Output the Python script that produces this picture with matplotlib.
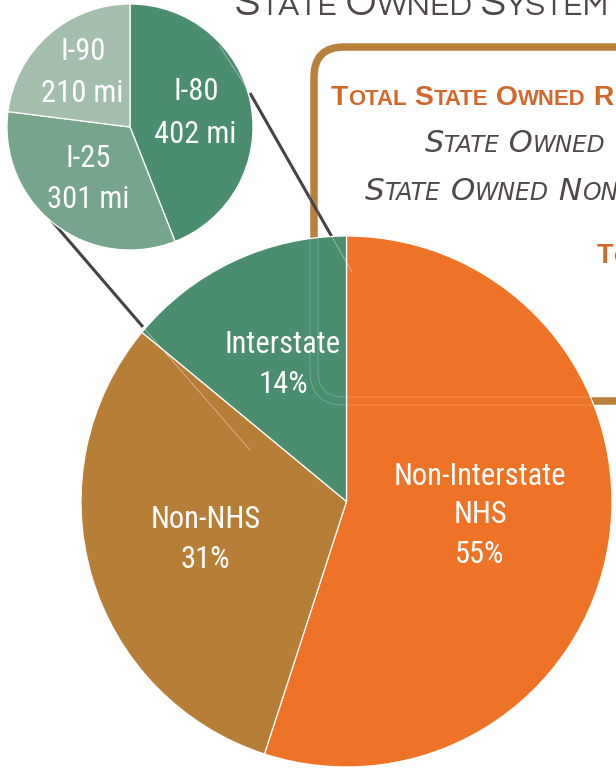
import matplotlib
matplotlib.use("Agg")
import matplotlib.pyplot as plt
from matplotlib.patches import FancyBboxPatch

W, H = 616, 773

# ---------------- data ----------------
main_labels = ["Non-Interstate\nNHS", "Non-NHS", "Interstate"]
main_values = [55, 31, 14]
main_colors = ["#EE7326", "#B77E38", "#4A8D6F"]

inter_labels = ["I-80", "I-25", "I-90"]
inter_miles = [402, 301, 210]
inter_colors = ["#4A8D6F", "#76A58D", "#A4BEAE"]

title_text = "State Owned System"
box_lines = ["Total State Owned R", "State Owned", "State Owned Non-", "To"]

LABEL_FONT = ["Roboto Condensed", "DejaVu Sans"]
TITLE_FONT = ["Questrial", "DejaVu Sans"]
ITALIC_FONT = ["DejaVu Sans"]
BOLD_FONT = ["Liberation Sans", "DejaVu Sans"]

fig = plt.figure(figsize=(W / 100, H / 100), dpi=100)
ax = fig.add_axes([0, 0, 1, 1])

def Y(py):
    return H - py

# big pie
bcx, bcy, br = 346.5, 501.5, 265.5
ax.pie(main_values, colors=main_colors, startangle=90, counterclock=False,
       center=(bcx, Y(bcy)), radius=br,
       wedgeprops=dict(edgecolor="white", linewidth=0.9, zorder=2))

# small pie
scx, scy, sr = 130, 127, 123
ax.pie(inter_miles, colors=inter_colors, startangle=90, counterclock=False,
       center=(scx, Y(scy)), radius=sr,
       wedgeprops=dict(edgecolor="white", linewidth=0.9, zorder=2))

# rounded box behind the big pie
box = FancyBboxPatch((314, Y(401)), 500, 401 - 47,
                     boxstyle="round,pad=0,rounding_size=30",
                     fill=False, edgecolor="#B8803A", linewidth=5.5, zorder=1)
ax.add_patch(box)
for off in (-4, 4):
    g = FancyBboxPatch((314 + off, Y(401 - off)), 500, 401 - 47 - 2 * off,
                       boxstyle="round,pad=0,rounding_size=%g" % (30 - off),
                       fill=False, edgecolor="white", linewidth=0.5, alpha=0.3, zorder=2.5)
    ax.add_patch(g)

# connector lines
ax.plot([250, 332], [Y(93), Y(237)], color="#4A4242", lw=2.2, zorder=1.5, solid_capstyle="butt")
ax.plot([51, 143], [Y(220), Y(327)], color="#4A4242", lw=2.2, zorder=1.5, solid_capstyle="butt")
for (x0, y0, x1, y1) in [(220, 47, 250, 93), (332, 237, 352, 272), (143, 327, 250, 450)]:
    ax.plot([x0, x1], [Y(y0), Y(y1)], color="white", lw=0.6, alpha=0.45, zorder=2.6)

ax.set_xlim(0, W)
ax.set_ylim(0, H)
ax.set_aspect("equal")
ax.axis("off")

# pie labels
lab_kw = dict(color="white", family=LABEL_FONT, fontsize=22, ha="center", va="baseline", zorder=4)
pct = ["%d%%" % v for v in main_values]
l0 = main_labels[0].split("\n")
ax.text(480, Y(485), l0[0], **lab_kw)
ax.text(480, Y(523), l0[1], **lab_kw)
ax.text(480, Y(563), pct[0], **lab_kw)
ax.text(206, Y(528), main_labels[1], **lab_kw)
ax.text(205, Y(568), pct[1], **lab_kw)
ax.text(283, Y(353), main_labels[2], **lab_kw)
ax.text(283, Y(393), pct[2], **lab_kw)

ax.text(196, Y(100), inter_labels[0], **lab_kw)
ax.text(195, Y(143), "%d mi" % inter_miles[0], **lab_kw)
ax.text(88, Y(167), inter_labels[1], **lab_kw)
ax.text(88, Y(208), "%d mi" % inter_miles[1], **lab_kw)
ax.text(83, Y(60), inter_labels[2], **lab_kw)
ax.text(82, Y(102), "%d mi" % inter_miles[2], **lab_kw)

renderer = fig.canvas.get_renderer()

def smallcaps(x, py, s, size, ratio, target=None, **kw):
    def build(sz0):
        runs = []
        for c in s:
            big = c.isupper() or c == " "
            sz = sz0 if big else sz0 * ratio
            if runs and runs[-1][1] == sz:
                runs[-1][0] += c.upper()
            else:
                runs.append([c.upper(), sz])
        texts, cx = [], x
        for txt, sz in runs:
            t = ax.text(cx, Y(py), txt, fontsize=sz, va="baseline", ha="left", zorder=4, **kw)
            cx += t.get_window_extent(renderer).width
            texts.append(t)
        return texts, cx - x
    texts, w = build(size)
    if target:
        for t in texts:
            t.remove()
        texts, w = build(size * target / w)
    return w

GRAY = "#4F4846"
ORANGE = "#D0692B"
smallcaps(235, 15, title_text, 26, 0.78, target=373, color=GRAY, family=TITLE_FONT)
smallcaps(331, 105, box_lines[0], 18, 0.78, target=283, color=ORANGE, family=BOLD_FONT, fontweight="bold")
smallcaps(425, 152, box_lines[1], 19, 0.76, target=180, color=GRAY, family=ITALIC_FONT, style="italic")
smallcaps(365, 200, box_lines[2], 19, 0.76, target=262, color=GRAY, family=ITALIC_FONT, style="italic")
smallcaps(597, 263, box_lines[3], 19.5, 0.78, color=ORANGE, family=BOLD_FONT, fontweight="bold")

fig.savefig("out.png", dpi=100)
